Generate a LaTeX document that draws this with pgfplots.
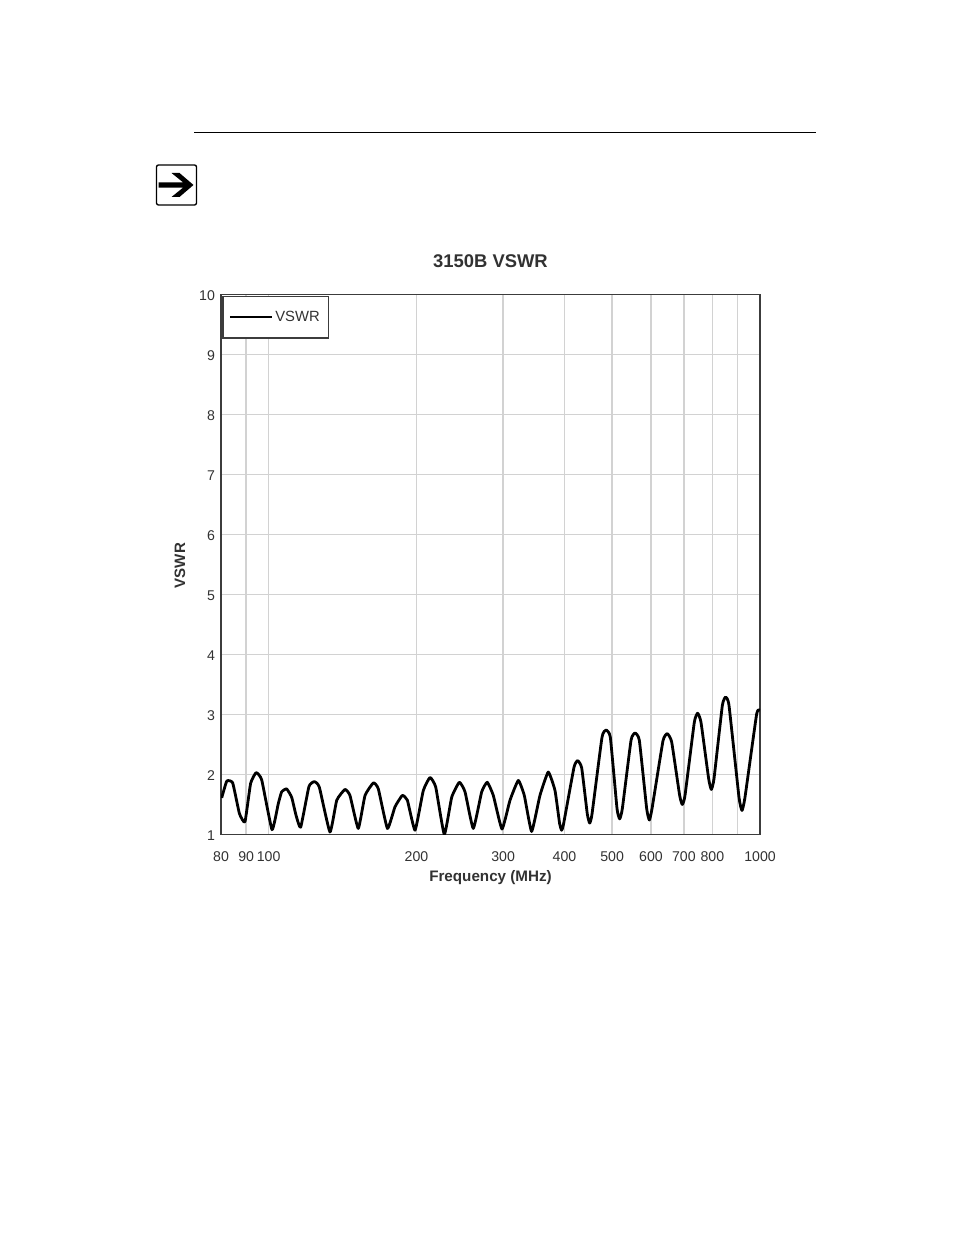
\documentclass[border=0pt]{standalone}
\usepackage{fontspec}
\setmainfont{Liberation Sans}
\usepackage{pgfplots}
\pgfplotsset{compat=1.18}
\definecolor{gridgray}{RGB}{210,210,210}
\definecolor{framegray}{RGB}{60,60,60}
\definecolor{labelgray}{RGB}{50,50,50}
\begin{document}
\begin{tikzpicture}
    % page frame, 1 unit = 1 px of the reference, y measured from the bottom
    \begin{scope}[x=0.75pt,y=0.75pt]
    \path[use as bounding box] (0,0) rectangle (954,1235);
    \fill[white] (0,0) rectangle (954,1235);
    \draw[line width=0.7pt,black] (194,1102.5) -- (816,1102.5);
    % note icon
    \draw[line width=1pt,black,rounded corners=1.5pt] (156.5,1030) rectangle (196.5,1070);
    \fill[black] (158.5,1052.7) -- (183,1052.7) -- (171.5,1062) -- (179.5,1062) -- (193.5,1050) -- (179.5,1038) -- (171.5,1038) -- (183,1047.3) -- (158.5,1047.3) -- cycle;
    \end{scope}
    \begin{axis}[
            at = {(165.75pt,300.4pt)}, anchor = south west, %
            scale only axis, %
            width = 404.25pt, height = 405pt, %
            xmode = log, %
            xmin = 80, xmax = 1000, %
            ymin = 1, ymax = 10, %
            xtick = {80,90,100,200,300,400,500,600,700,800,900,1000}, %
            xticklabels = {80,90,100,200,300,400,500,600,700,800,,1000}, %
            ytick = {1,2,3,4,5,6,7,8,9,10}, %
            minor xtick = {}, %
            log ticks with fixed point, %
            grid = major, %
            major grid style = {gridgray, line width=1pt}, %
            tick style = {draw=none}, %
            axis line style = {framegray, line width=1pt}, %
            tick label style = {font=\fontsize{10.6}{12}\selectfont, text=labelgray, /pgf/number format/assume math mode=true}, %
            xticklabel style = {yshift=-9pt}, %
            yticklabel style = {xshift=-1pt, yshift=-1.2pt}, %
            title = {3150B VSWR}, %
            title style = {font=\fontsize{13.8}{15}\selectfont\bfseries, text=labelgray, at={(axis description cs:0.5,1.061)}, anchor=center, yshift=-6pt}, %
            xlabel = {Frequency (MHz)}, %
            xlabel style = {font=\fontsize{11.4}{13}\selectfont\bfseries, text=labelgray, at={(axis description cs:0.5,-0.079)}, anchor=center}, %
            ylabel = {VSWR}, %
            ylabel style = {font=\fontsize{11.3}{13}\selectfont\bfseries, text=labelgray, at={(axis description cs:-0.076,0.498)}, anchor=center}, %
            legend cell align = {left}, %
            legend style = {at={(rel axis cs:0.002,0.998)}, anchor=north west, draw=framegray, line width=1.1pt, fill=white, font=\fontsize{11.1}{12}\selectfont\color{labelgray}, inner xsep=4.5pt, inner ysep=9pt}, %
            legend image code/.code = {\draw[line width=1.4pt,#1] (0,0) -- (31.5pt,0);}, %
        ]
        \addplot[black, line width=2.1pt, smooth, tension=0.25, line join=round] coordinates {
                (80.26,1.61) (82.2,1.89) (84.5,1.86) (87.2,1.35) (89.5,1.21)
                (91.9,1.85) (94.3,2.03) (96.8,1.91) (101.6,1.08) (104.6,1.51)
                (106.3,1.71) (108.8,1.76) (111.4,1.62) (113.7,1.32) (116.2,1.12)
                (120.8,1.80) (123.9,1.88) (126.8,1.79) (133.3,1.04) (137.6,1.57)
                (143.0,1.75) (146.4,1.65) (152.2,1.10) (157.1,1.65) (163.4,1.86)
                (167.2,1.76) (174.5,1.10) (180.8,1.46) (187.1,1.65) (191.6,1.57)
                (198.6,1.07) (206.4,1.73) (213.0,1.95) (218.8,1.79) (227.8,1.00)
                (235.8,1.62) (244.4,1.87) (251.0,1.71) (260.9,1.10) (271.4,1.71)
                (278.6,1.87) (286.6,1.65) (298.5,1.09) (309.9,1.57) (322.2,1.90)
                (331.4,1.65) (343.0,1.05) (356.6,1.65) (370.8,2.04) (382.7,1.73)
                (391.1,1.18) (394.8,1.07) (398.5,1.18)
                (418.3,2.12) (425.5,2.23) (433.6,2.11)
                (445.2,1.34) (450.2,1.19) (455.1,1.34)
                (476.9,2.62) (486.0,2.74) (495.9,2.62)
                (511.7,1.43) (518.1,1.26) (524.6,1.43)
                (546.4,2.57) (556.7,2.69) (568.1,2.57)
                (588.0,1.43) (595.4,1.24) (602.9,1.43)
                (634.7,2.56) (647.8,2.68) (661.1,2.54)
                (686.3,1.65) (694.9,1.50) (703.7,1.65)
                (735.1,2.87) (746.7,3.02) (758.5,2.87)
                (786.2,1.93) (796.1,1.75) (806.1,1.93)
                (838.2,3.15) (851.4,3.29) (864.8,3.15)
                (906.2,1.62) (919.1,1.40) (932.1,1.62)
                (984.5,3.01) (1000,3.07)
            };
        \legend{VSWR}
    \end{axis}
\end{tikzpicture}
\end{document}
